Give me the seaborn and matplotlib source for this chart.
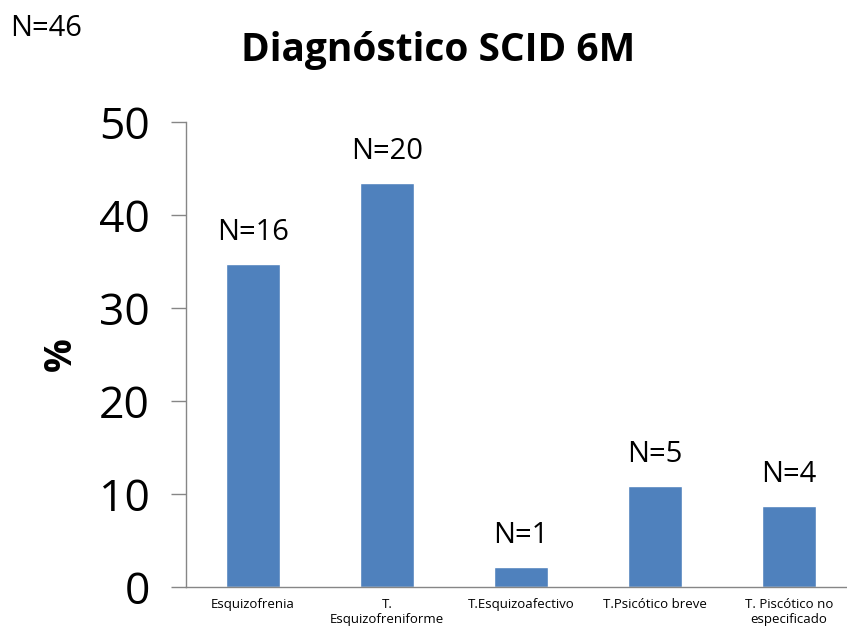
import matplotlib
matplotlib.use("Agg")
import matplotlib.pyplot as plt
import seaborn as sns
import pandas as pd

categories = ["Esquizofrenia", "T.\nEsquizofreniforme", "T.Esquizoafectivo",
              "T.Psicótico breve", "T. Piscótico no\nespecificado"]
counts = [16, 20, 1, 5, 4]
total = 46
percent = [34.78, 43.48, 2.17, 10.87, 8.70]
labels = ["N=16", "N=20", "N=1", "N=5", "N=4"]
yticks = [0, 10, 20, 30, 40, 50]

sns.set_theme(style="white")
plt.rcParams['font.family'] = ['Open Sans', 'DejaVu Sans']
plt.rcParams['text.color'] = 'black'
plt.rcParams['axes.labelcolor'] = 'black'
plt.rcParams['xtick.color'] = 'black'
plt.rcParams['ytick.color'] = 'black'

df = pd.DataFrame({"cat": categories, "pct": percent})

fig = plt.figure(figsize=(8.47, 6.35), dpi=100)
ax = fig.add_axes([186/847, 48/635, (5*134)/847, (587-122)/635])
sns.barplot(data=df, x="cat", y="pct", color="#4F81BD", saturation=1,
            width=0.4, ax=ax)

ax.set_ylim(0, 50)
ax.set_xlim(-0.5, 4.5)
ax.set_yticks(yticks)
ax.set_yticklabels([str(t) for t in yticks], fontsize=32)
ax.tick_params(axis='y', length=11, width=1, color="#868686", pad=15, left=True,
               labelcolor="black")
ax.tick_params(axis='x', length=0, labelsize=9.5, pad=8, labelcolor="black")
ax.set_xlabel("")
ax.set_ylabel("%", fontsize=27, fontweight="bold", labelpad=14, color="black")

for s in ["top", "right"]:
    ax.spines[s].set_visible(False)
for s in ["left", "bottom"]:
    ax.spines[s].set_color("#868686")
    ax.spines[s].set_linewidth(1)

for i, (p, lab) in enumerate(zip(percent, labels)):
    ax.annotate(lab, (i, p), xytext=(0, 12), textcoords="offset points",
                ha="center", va="bottom", fontsize=21, color="black")

fig.text(438/847, 1 - 50/635, "Diagnóstico SCID 6M", ha="center", va="center",
         fontsize=28, fontweight="bold", color="black")
fig.text(10/847, 1 - 28/635, "N=46", ha="left", va="center", fontsize=21,
         color="black")

fig.savefig("out.png", dpi=100)
